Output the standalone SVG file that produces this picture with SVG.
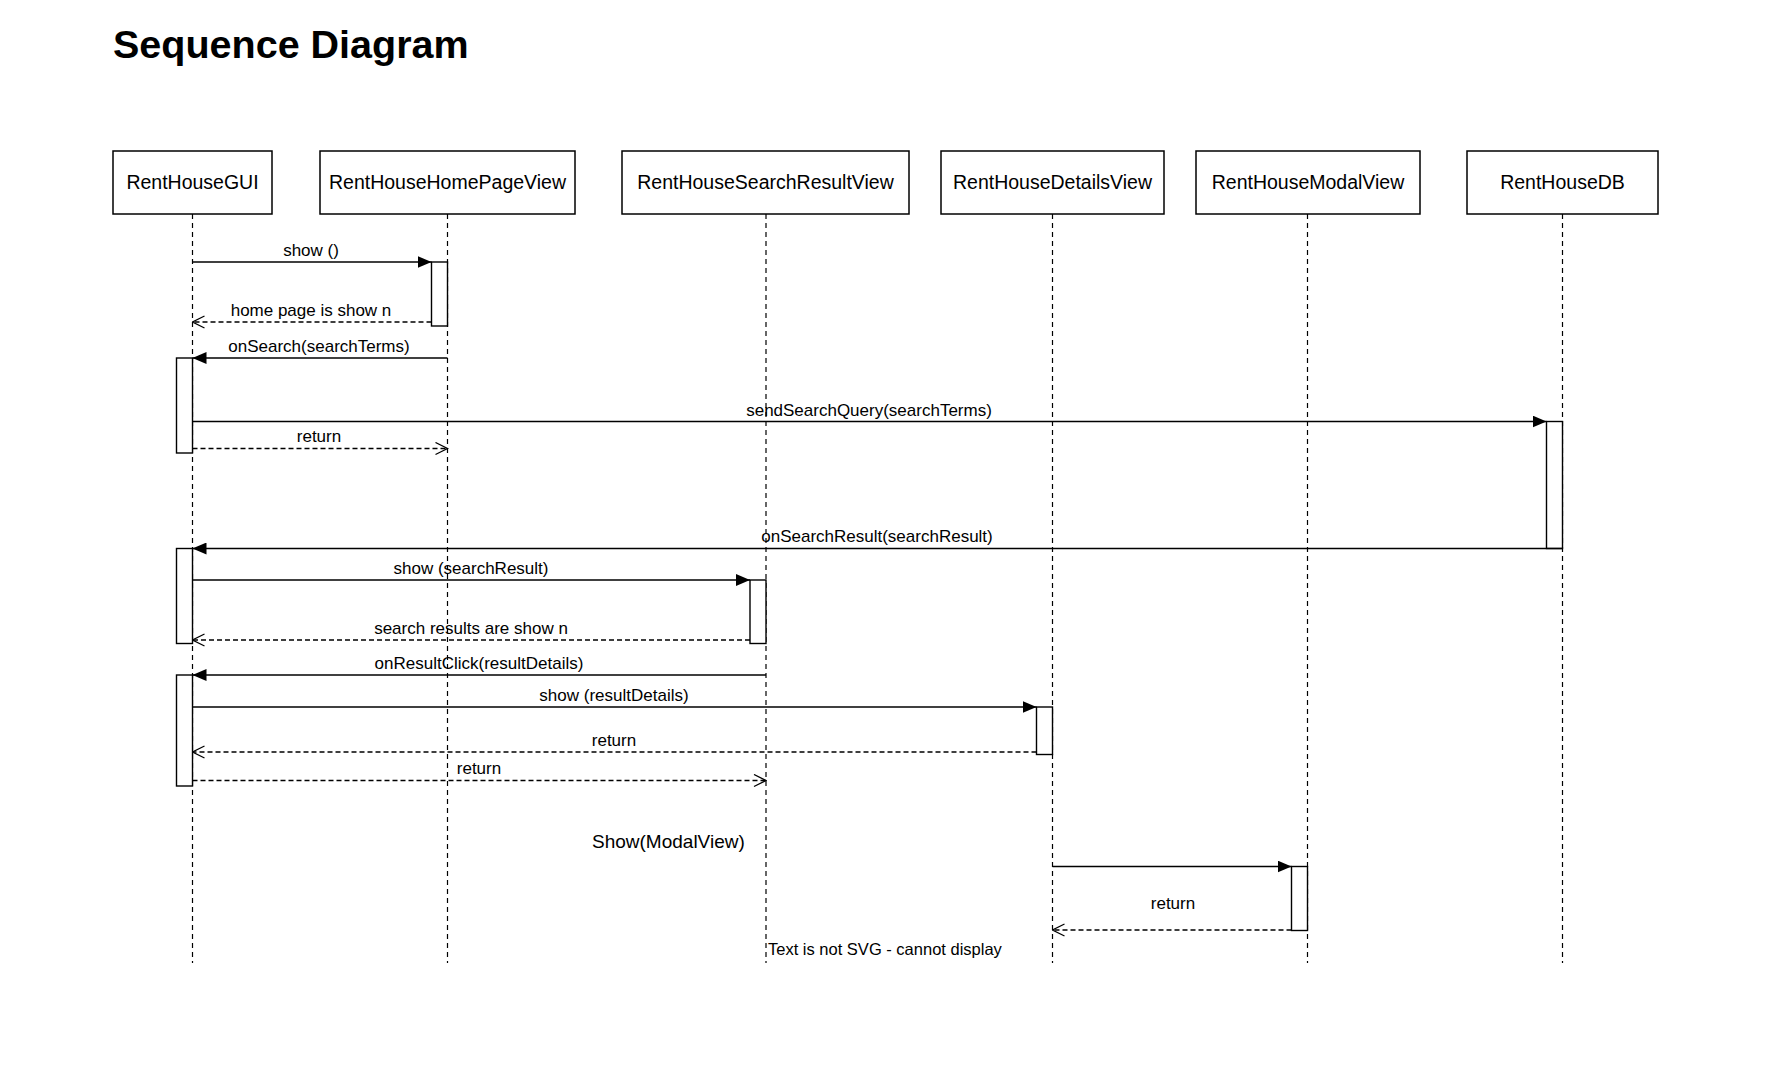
<svg xmlns="http://www.w3.org/2000/svg" width="1776" height="1072" viewBox="0 0 1776 1072">
  <style>
    .title { font-family: "Liberation Sans", Arial, sans-serif; font-weight: bold; font-size: 39.5px; fill: #000; }
    .box { fill: #fff; stroke: #000; stroke-width: 1.5; }
    .name { font-family: "Liberation Sans", Arial, sans-serif; font-size: 19.5px; fill: #000; text-anchor: middle; }
    .life { stroke: #000; stroke-width: 1.2; stroke-dasharray: 5 4; fill: none; }
    .act { fill: #fff; stroke: #000; stroke-width: 1.4; }
    .call { stroke: #000; stroke-width: 1.4; fill: none; marker-end: url(#block); }
    .ret { stroke: #000; stroke-width: 1.3; stroke-dasharray: 5 3; fill: none; marker-end: url(#open); }
    .lbl { font-family: "Liberation Sans", Arial, sans-serif; font-size: 17px; fill: #000; text-anchor: middle; }
    .note { font-family: "Liberation Sans", Arial, sans-serif; fill: #000; }
  </style>
  <defs>
    <marker id="block" viewBox="0 0 14 12" refX="14" refY="6" markerWidth="14" markerHeight="12" markerUnits="userSpaceOnUse" orient="auto">
      <path d="M0,0 L14,6 L0,12 z" fill="#000"/>
    </marker>
    <marker id="open" viewBox="0 0 14 14" refX="13" refY="7" markerWidth="14" markerHeight="14" markerUnits="userSpaceOnUse" orient="auto">
      <path d="M1,1 L13,7 L1,13" fill="none" stroke="#000" stroke-width="1.3"/>
    </marker>
  </defs>

  <rect width="1776" height="1072" fill="#fff"/>
  <text class="title" x="113" y="58">Sequence Diagram</text>

  <!-- lifelines -->
  <g id="lifelines">
    <line class="life" x1="192.5" y1="214" x2="192.5" y2="963"/>
    <line class="life" x1="447.5" y1="214" x2="447.5" y2="963"/>
    <line class="life" x1="766" y1="214" x2="766" y2="963"/>
    <line class="life" x1="1052.5" y1="214" x2="1052.5" y2="963"/>
    <line class="life" x1="1307.5" y1="214" x2="1307.5" y2="963"/>
    <line class="life" x1="1562.5" y1="214" x2="1562.5" y2="963"/>
  </g>

  <!-- participants -->
  <g id="RentHouseGUI">
    <rect class="box" x="113" y="151" width="159" height="63"/>
    <text class="name" x="192.5" y="189">RentHouseGUI</text>
  </g>
  <g id="RentHouseHomePageView">
    <rect class="box" x="320" y="151" width="255" height="63"/>
    <text class="name" x="447.5" y="189">RentHouseHomePageView</text>
  </g>
  <g id="RentHouseSearchResultView">
    <rect class="box" x="622" y="151" width="287" height="63"/>
    <text class="name" x="765.5" y="189">RentHouseSearchResultView</text>
  </g>
  <g id="RentHouseDetailsView">
    <rect class="box" x="941" y="151" width="223" height="63"/>
    <text class="name" x="1052.5" y="189">RentHouseDetailsView</text>
  </g>
  <g id="RentHouseModalView">
    <rect class="box" x="1196" y="151" width="224" height="63"/>
    <text class="name" x="1308" y="189">RentHouseModalView</text>
  </g>
  <g id="RentHouseDB">
    <rect class="box" x="1467" y="151" width="191" height="63"/>
    <text class="name" x="1562.5" y="189">RentHouseDB</text>
  </g>

  <!-- activation bars -->
  <g id="activations">
    <rect class="act" x="431.5" y="262" width="16" height="64"/>
    <rect class="act" x="176.5" y="358" width="16" height="95"/>
    <rect class="act" x="1546.5" y="421.5" width="16" height="127"/>
    <rect class="act" x="176.5" y="548.5" width="16" height="95"/>
    <rect class="act" x="750" y="580" width="16" height="63.5"/>
    <rect class="act" x="176.5" y="675" width="16" height="111"/>
    <rect class="act" x="1036.5" y="707" width="16" height="47.5"/>
    <rect class="act" x="1291.5" y="866.5" width="16" height="64"/>
  </g>

  <!-- messages -->
  <g id="connectors">
    <line class="call" x1="192.5" y1="262" x2="431.5" y2="262"/>
    <line class="ret" x1="431.5" y1="322" x2="192.5" y2="322"/>
    <line class="call" x1="447.5" y1="358" x2="192.5" y2="358"/>
    <line class="call" x1="192.5" y1="421.5" x2="1546.5" y2="421.5"/>
    <line class="ret" x1="192.5" y1="448.5" x2="447.5" y2="448.5"/>
    <line class="call" x1="1562.5" y1="548.5" x2="192.5" y2="548.5"/>
    <line class="call" x1="192.5" y1="580" x2="750" y2="580"/>
    <line class="ret" x1="750" y1="640" x2="192.5" y2="640"/>
    <line class="call" x1="766" y1="675" x2="192.5" y2="675"/>
    <line class="call" x1="192.5" y1="707" x2="1036.5" y2="707"/>
    <line class="ret" x1="1036.5" y1="752" x2="192.5" y2="752"/>
    <line class="ret" x1="192.5" y1="780.5" x2="766" y2="780.5"/>
    <line class="call" x1="1052.5" y1="866.5" x2="1291.5" y2="866.5"/>
    <line class="ret" x1="1291.5" y1="930" x2="1052.5" y2="930"/>
  </g>

  <!-- message labels -->
  <g id="labels">
    <text class="lbl" x="311" y="256">show ()</text>
    <text class="lbl" x="311" y="316">home page is show n</text>
    <text class="lbl" x="319" y="352">onSearch(searchTerms)</text>
    <text class="lbl" x="869" y="416">sendSearchQuery(searchTerms)</text>
    <text class="lbl" x="319" y="442">return</text>
    <text class="lbl" x="877" y="542">onSearchResult(searchResult)</text>
    <text class="lbl" x="471" y="574">show (searchResult)</text>
    <text class="lbl" x="471" y="634">search results are show n</text>
    <text class="lbl" x="479" y="669">onResultClick(resultDetails)</text>
    <text class="lbl" x="614" y="701">show (resultDetails)</text>
    <text class="lbl" x="614" y="746">return</text>
    <text class="lbl" x="479" y="774">return</text>
    <text class="lbl" x="1173" y="909">return</text>
    <text class="note" x="592" y="848" font-size="19px">Show(ModalView)</text>
    <text class="note" x="768" y="955" font-size="16.5px">Text is not SVG - cannot display</text>
  </g>
</svg>
